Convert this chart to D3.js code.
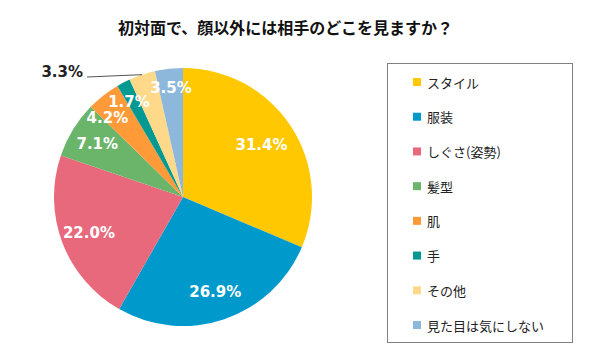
<!DOCTYPE html>
<html><head><meta charset="utf-8">
<script src="https://cdn.jsdelivr.net/npm/d3@7"></script>
<style>body{margin:0;background:#fff}svg{display:block}</style>
</head><body>
<svg id="c" width="600" height="360"></svg>
<script>
const title = "初対面で、顔以外には相手のどこを見ますか？";
const categories = ["スタイル","服装","しぐさ(姿勢)","髪型","肌","手","その他","見た目は気にしない"];
const values = [31.4, 26.9, 22.0, 7.1, 4.2, 1.7, 3.3, 3.5];
const colors = ["#FFC800","#0099CC","#E8697B","#6BB56A","#FF9A38","#009A93","#FFD98A","#8DB8DC"];
const outsideLabels = ["その他"];

const svg = d3.select("#c");
const cx = 183, cy = 197, R = 129;
const fontLatin = "'DejaVu Sans', Verdana, sans-serif";
const fontJP = "'Noto Sans CJK JP', sans-serif";

svg.append("text").attr("x", 118).attr("y", 27).attr("dominant-baseline","central")
  .attr("font-family", fontJP).attr("font-weight","bold").attr("font-size", 16)
  .attr("fill", "#111").text(title);

const data = categories.map((c,i)=>({cat:c, value:values[i]}));
const color = d3.scaleOrdinal().domain(categories).range(colors);
const pie = d3.pie().value(d=>d.value).sort(null);
const arcs = pie(data);
const arc = d3.arc().innerRadius(0).outerRadius(R);
const g = svg.append("g").attr("transform", `translate(${cx},${cy})`);
g.selectAll("path").data(arcs).join("path").attr("d", arc).attr("fill", d=>color(d.data.cat));

const fmt = v => v.toFixed(1) + "%";
const inside = [];
arcs.forEach(a => {
  const mid = (a.startAngle + a.endAngle)/2;
  if (outsideLabels.includes(a.data.cat)) {
    const p = [R*Math.sin(mid), -R*Math.cos(mid)];
    const lx = -96, ly = -120;
    g.append("path").attr("d", `M${p[0]},${p[1]}L${lx},${ly}`)
      .attr("stroke","#555").attr("stroke-width",1).attr("fill","none");
    g.append("text").attr("x", lx-4).attr("y", ly-5).attr("text-anchor","end")
      .attr("dominant-baseline","central").attr("font-family", fontLatin)
      .attr("font-weight","bold").attr("font-size",15).attr("fill","#222").text(fmt(a.data.value));
  } else {
    const k = a.data.value < 5 ? 0.85 : (a.data.value > 30 ? 0.73 : 0.78);
    const t = g.append("text")
      .attr("text-anchor","middle").attr("dominant-baseline","central")
      .attr("font-family", fontLatin).attr("font-weight","bold").attr("font-size",15)
      .attr("fill","#fff").text(fmt(a.data.value));
    const item = {t, ang: mid, r: R*k};
    item.place = () => t.attr("x", item.r*Math.sin(item.ang)).attr("y", -item.r*Math.cos(item.ang));
    item.place();
    inside.push(item);
  }
});
// collision avoidance: walk backwards, pushing earlier labels counter-clockwise
const box = it => { const b = it.t.node().getBBox(); return {x0:b.x, x1:b.x+b.width, y0:b.y+1, y1:b.y+b.height-1}; };
const hit = (a,b) => a.x0 < b.x1 && b.x0 < a.x1 && a.y0 < b.y1 && b.y0 < a.y1;
for (let i = inside.length-2; i >= 0; i--) {
  const nxt = inside[i+1];
  let n = 0;
  while (hit(box(inside[i]), box(nxt)) && n < 80) {
    inside[i].ang -= Math.PI/360; inside[i].place(); n++;
  }
}

// legend
svg.append("rect").attr("x",387.5).attr("y",63.5).attr("width",185).attr("height",279)
  .attr("fill","#fff").attr("stroke","#808080").attr("stroke-width",1);
const ly = d3.scalePoint().domain(categories).range([82, 325]);
const lg = svg.append("g");
categories.forEach(c => {
  lg.append("rect").attr("x",413).attr("y",ly(c)-4).attr("width",8).attr("height",8).attr("fill",color(c));
  lg.append("text").attr("x",427).attr("y",ly(c)).attr("dominant-baseline","central")
    .attr("font-family", fontJP).attr("font-size",13).attr("fill","#222").text(c);
});
</script>
</body></html>
